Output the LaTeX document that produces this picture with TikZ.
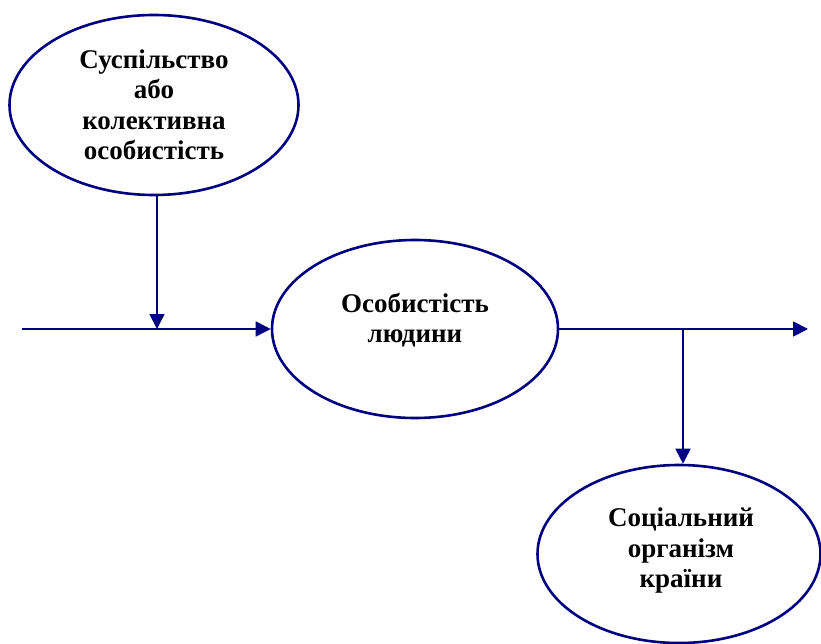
\documentclass[tikz,border=0pt]{standalone}
\usepackage{fontspec}
\setmainfont{Liberation Serif}
\usetikzlibrary{shapes.geometric,arrows.meta}
\definecolor{navy}{HTML}{000080}
\begin{document}
\begin{tikzpicture}[x=1pt,y=-1pt,
  oval/.style={ellipse,draw=navy,line width=2.6pt,inner sep=0pt},
  txt/.style={align=center,inner sep=0pt,font=\fontsize{27}{30.5}\selectfont\bfseries},
  conn/.style={draw=navy,line width=1.8pt,-{Triangle[length=15pt,width=15pt]}}]
\useasboundingbox (0,0) rectangle (821,644);
\node[oval,minimum width=289pt,minimum height=180pt] (e1) at (154,105) {};
\node[txt] (t1) at (154,105) {Суспільство\\або\\колективна\\особистість};
\node[oval,minimum width=286pt,minimum height=178pt] (e2) at (415,329) {};
\node[txt] (t2) at (415,320) {Особистість\\людини};
\node[oval,minimum width=283pt,minimum height=178pt] (e3) at (679,554) {};
\node[txt] (t3) at (681,551) {Соціальний\\організм\\країни};
\coordinate (in) at (22,329);
\coordinate (out) at (808,329);
\coordinate (j) at (683,329);
\draw[conn] ([xshift=3pt]e1.south) -- ([xshift=3pt]e1.south |- in);
\draw[conn] (in) -- (e2.west);
\draw[conn] (e2.east) -- (out);
\draw[conn] (j) -- (j |- e3.north);
\end{tikzpicture}
\end{document}
